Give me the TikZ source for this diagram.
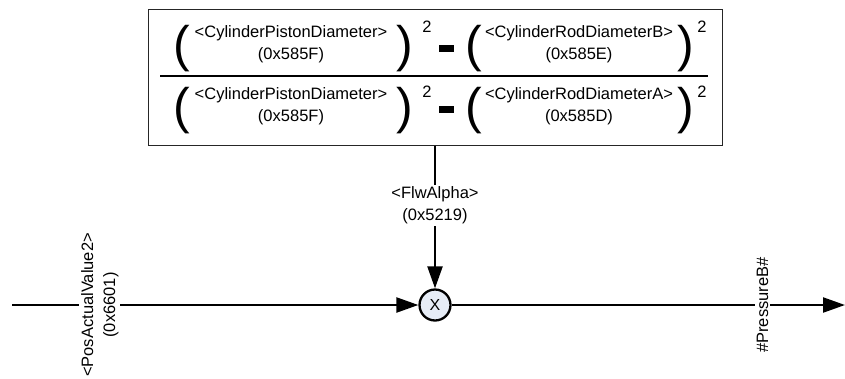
\documentclass[tikz,border=0pt]{standalone}
\usepackage{fontspec}
\setmainfont{Liberation Sans}
\usetikzlibrary{arrows.meta}
\definecolor{multfill}{HTML}{E6ECF6}
\tikzset{
  lbl/.style={font=\fontsize{16.5}{22}\selectfont, align=center, inner sep=0pt},
  bigparen/.style={font=\fontsize{50}{50}\selectfont, inner sep=0pt, anchor=center},
  sq/.style={font=\fontsize{16.5}{20}\selectfont, inner sep=0pt},
  conn/.style={line width=2.3pt, -{Triangle[length=22pt,width=15pt]}},
  cut/.style={fill=white, inner sep=2pt, font=\fontsize{16.5}{22}\selectfont, align=center},
}
\begin{document}
\begin{tikzpicture}[x=1pt,y=-1pt]
\useasboundingbox (0,0) rectangle (845,378);
% formula box
\node[draw=black!85, line width=1pt, minimum width=574pt, minimum height=135.5pt, inner sep=0pt] (box) at (435,77.25) {};
% numerator
\node[bigparen] (lp1) at (182,48.5) {(};
\node[lbl] (t1) at (291,44) {<CylinderPistonDiameter>\\(0x585F)};
\node[bigparen] (rp1) at (405,48.5) {)};
\node[sq] (s1) at (427,27) {2};
\fill (439,45) rectangle (454,52);
\node[bigparen] (lp2) at (474,48.5) {(};
\node[lbl] (t2) at (579,44) {<CylinderRodDiameterB>\\(0x585E)};
\node[bigparen] (rp2) at (686,48.5) {)};
\node[sq] (s2) at (702,27) {2};
% fraction bar
\draw[line width=2.5pt] (160,76) -- (708,76);
% denominator
\node[bigparen] (lp3) at (182,110.5) {(};
\node[lbl] (t3) at (291,106) {<CylinderPistonDiameter>\\(0x585F)};
\node[bigparen] (rp3) at (405,110.5) {)};
\node[sq] (s3) at (427,92) {2};
\fill (439,106) rectangle (454,113);
\node[bigparen] (lp4) at (474,110.5) {(};
\node[lbl] (t4) at (579,106) {<CylinderRodDiameterA>\\(0x585D)};
\node[bigparen] (rp4) at (686,110.5) {)};
\node[sq] (s4) at (702,92) {2};
% multiplier
\node[circle, draw, line width=2.3pt, fill=multfill, minimum size=31pt, inner sep=0pt, font=\fontsize{16}{16}\selectfont] (mult) at (435,305) {X};
\coordinate (in) at (12,305);
\coordinate (out) at (845,305);
\draw[conn] (box.south) -- node[cut, pos=0.42] {<FlwAlpha>\\(0x5219)} (mult.north);
\draw[conn] (in) -- node[cut, rotate=90, pos=0.216] {<PosActualValue2>\\(0x6601)} (mult.west);
\draw[conn] (mult.east) -- node[cut, rotate=90, pos=0.79] {\#PressureB\#} (out);
\end{tikzpicture}
\end{document}
